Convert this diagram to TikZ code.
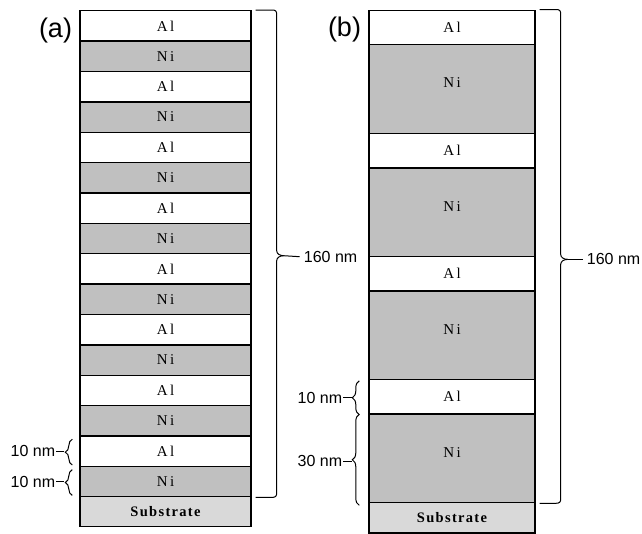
\documentclass[tikz,border=0pt]{standalone}
\usepackage{fontspec}
\setmainfont{Liberation Serif}
\setsansfont{Liberation Sans}
\usetikzlibrary{calc,decorations.pathreplacing}
\definecolor{nigray}{HTML}{C0C0C0}
\definecolor{subgray}{HTML}{D9D9D9}
\tikzset{
  layerbox/.style={draw=black, line width=1.4pt, inner sep=0pt, anchor=north,
    font=\fontsize{15}{15}\selectfont},
  alA/.style={layerbox, fill=white, minimum width=171pt, minimum height=30.375pt},
  niA/.style={layerbox, fill=nigray, minimum width=171pt, minimum height=30.375pt},
  subA/.style={layerbox, fill=subgray, minimum width=171pt, minimum height=29.5pt,
    font=\fontsize{14.5}{14.5}\selectfont\bfseries},
  alB/.style={layerbox, fill=white, minimum width=166pt, minimum height=34.5pt},
  niB/.style={layerbox, fill=nigray, minimum width=166pt, minimum height=88.6pt, text depth=12pt},
  subB/.style={layerbox, fill=subgray, minimum width=166pt, minimum height=30.5pt,
    font=\fontsize{14.5}{14.5}\selectfont\bfseries},
  panel/.style={font=\sffamily\fontsize{27}{27}\selectfont, inner sep=0pt},
  dimtext/.style={font=\sffamily\fontsize{16}{16}\selectfont, inner ysep=0pt, inner xsep=1pt},
  bigtext/.style={font=\sffamily\fontsize{16}{16}\selectfont, inner ysep=0pt, inner xsep=4pt},
  bracestyle/.style={draw=black, line width=1pt},
  smallbrace/.style={bracestyle, decorate, decoration={brace, amplitude=7pt}},
}
\newcommand{\AlTxt}{A\kern2.5pt l}
\newcommand{\NiTxt}{N\kern2.5pt i}
\newcommand{\SubTxt}{S\kern1.3pt u\kern1.3pt b\kern1.3pt s\kern1.3pt t\kern1.3pt r\kern1.3pt a\kern1.3pt t\kern1.3pt e}
\begin{document}
\begin{tikzpicture}[x=1pt,y=-1pt]
\useasboundingbox (0,0) rectangle (642,533);
% ---------- panel (a) ----------
\foreach \i in {0,...,15}{
  \pgfmathtruncatemacro\pty{mod(\i,2)}
  \ifnum\pty=0
    \node[alA] (a\i) at (165.5,{10+\i*30.375}) {\AlTxt};
  \else
    \node[niA] (a\i) at (165.5,{10+\i*30.375}) {\NiTxt};
  \fi
}
\node[subA] (asub) at (165.5,496) {\SubTxt};
\node[panel] (alab) at (55.5,31) {(a)};
% big brace (a)
\coordinate (aT) at ($(a0.north east)+(4,0)$);
\coordinate (aB) at ($(a15.south east)+(4,0)$);
\coordinate (aM) at ($(aT)!0.5!(aB)+(28,2)$);
\node[bigtext, anchor=west] (a160) at ($(aM)+(16,1)$) {160 nm};
\draw[bracestyle] (aT) -- ($(aT)+(16,0)$) .. controls ($(aT)+(20,0)$) and ($(aT)+(21,1)$) .. ($(aT)+(21,5)$)
  -- ($(aM)+(-7,-5)$) .. controls ($(aM)+(-7,-2)$) and ($(aM)+(-4,0)$) .. (aM);
\draw[bracestyle] (aB) -- ($(aB)+(16,0)$) .. controls ($(aB)+(20,0)$) and ($(aB)+(21,-1)$) .. ($(aB)+(21,-5)$)
  -- ($(aM)+(-7,5)$) .. controls ($(aM)+(-7,2)$) and ($(aM)+(-4,0)$) .. (aM);
\draw[bracestyle] (aM) -- (a160.west);
% small braces (a)
\draw[smallbrace] ($(a14.south west)+(-7,-2)$) -- ($(a14.north west)+(-7,4)$);
\coordinate (at1) at ($(a14.west)+(-15,0)$);
\node[dimtext, anchor=east] (a10a) at ($(at1)+(-8,0)$) {10 nm};
\draw[bracestyle] (a10a.east) -- (at1);
\draw[smallbrace] ($(a15.south west)+(-7,-2)$) -- ($(a15.north west)+(-7,4)$);
\coordinate (at2) at ($(a15.west)+(-15,0)$);
\node[dimtext, anchor=east] (a10b) at ($(at2)+(-8,0)$) {10 nm};
\draw[bracestyle] (a10b.east) -- (at2);
% ---------- panel (b) ----------
\node[alB] (b0) at (452,9.5) {\AlTxt};
\node[niB] (b1) at (452,44) {\NiTxt};
\node[alB] (b2) at (452,132.6) {\AlTxt};
\node[niB] (b3) at (452,167.1) {\NiTxt};
\node[alB] (b4) at (452,255.7) {\AlTxt};
\node[niB] (b5) at (452,290.2) {\NiTxt};
\node[alB] (b6) at (452,378.8) {\AlTxt};
\node[niB] (b7) at (452,413.3) {\NiTxt};
\node[subB] (bsub) at (452,501.9) {\SubTxt};
\node[panel] (blab) at (344.5,30) {(b)};
% big brace (b)
\coordinate (bT) at ($(b0.north east)+(4,0)$);
\coordinate (bB) at ($(b7.south east)+(4,0)$);
\coordinate (bM) at ($(bT)!0.5!(bB)+(28,3)$);
\node[bigtext, anchor=west] (b160) at ($(bM)+(15,0)$) {160 nm};
\draw[bracestyle] (bT) -- ($(bT)+(16,0)$) .. controls ($(bT)+(20,0)$) and ($(bT)+(21,1)$) .. ($(bT)+(21,5)$)
  -- ($(bM)+(-7,-5)$) .. controls ($(bM)+(-7,-2)$) and ($(bM)+(-4,0)$) .. (bM);
\draw[bracestyle] (bB) -- ($(bB)+(16,0)$) .. controls ($(bB)+(20,0)$) and ($(bB)+(21,-1)$) .. ($(bB)+(21,-5)$)
  -- ($(bM)+(-7,5)$) .. controls ($(bM)+(-7,2)$) and ($(bM)+(-4,0)$) .. (bM);
\draw[bracestyle] (bM) -- (b160.west);
% small braces (b)
\draw[smallbrace] ($(b6.south west)+(-9,0)$) -- ($(b6.north west)+(-9,2)$);
\coordinate (bt1) at ($(b6.west)+(-16,1)$);
\node[dimtext, anchor=east] (b10) at ($(bt1)+(-9,0)$) {10 nm};
\draw[bracestyle] (b10.east) -- (bt1);
\draw[smallbrace] ($(b7.south west)+(-9,2)$) -- ($(b7.north west)+(-9,1)$);
\coordinate (bt2) at ($(b7.west)+(-16,3)$);
\node[dimtext, anchor=east] (b30) at ($(bt2)+(-9,0)$) {30 nm};
\draw[bracestyle] (b30.east) -- (bt2);
\end{tikzpicture}
\end{document}
